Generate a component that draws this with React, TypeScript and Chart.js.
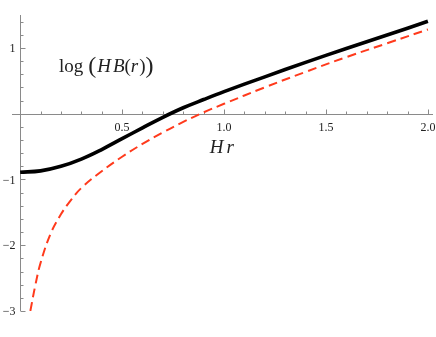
import React, { useEffect, useRef } from 'react';
import { Chart, registerables } from 'chart.js';

Chart.register(...registerables);

// Solid black curve: log(H B(r)) vs H r
const blackX = [0, 0.1, 0.2, 0.3, 0.4, 0.5, 0.6, 0.7, 0.8, 0.9, 1.0, 1.2, 1.4, 1.6, 1.8, 2.0];
const blackY = [-0.89, -0.87, -0.80, -0.69, -0.545, -0.38, -0.215, -0.055, 0.09, 0.215, 0.335, 0.56, 0.78, 0.99, 1.195, 1.405];

// Dashed red curve
const redX = [0.05, 0.075, 0.1, 0.15, 0.2, 0.25, 0.3, 0.4, 0.5, 0.6, 0.7, 0.8, 0.9, 1.0, 1.2, 1.4, 1.6, 1.8, 2.0];
const redY = [-3.0, -2.6, -2.27, -1.82, -1.53, -1.31, -1.13, -0.875, -0.655, -0.46, -0.285, -0.125, 0.02, 0.15, 0.4, 0.635, 0.86, 1.07, 1.28];

// Axes
const xRange = [-0.04, 2.025];
const yRange = [-3.0, 1.5];
const xMajorTicks = [0.5, 1.0, 1.5, 2.0];
const xTickLabels = ['0.5', '1.0', '1.5', '2.0'];
const yMajorTicks = [-3, -2, -1, 1];
const yTickLabels = ['\u22123', '\u22122', '\u22121', '1'];
const xMinorStep = 0.1;
const yMinorStep = 0.2;

const axisTitle = 'Hr';

const axisColor = '#8a8a8a';
const labelColor = '#222222';
const serif = '"Liberation Serif", "DejaVu Serif", serif';

const axesPlugin = {
  id: 'mathAxes',
  beforeDatasetsDraw(chart: any) {
    const { ctx, chartArea, scales } = chart;
    const xs = scales.x;
    const ys = scales.y;
    const x0 = Math.round(xs.getPixelForValue(0)) + 0.5;
    const y0 = Math.round(ys.getPixelForValue(0)) + 0.5;
    ctx.save();
    ctx.strokeStyle = axisColor;
    ctx.lineWidth = 1;
    ctx.beginPath();
    ctx.moveTo(chartArea.left, y0);
    ctx.lineTo(chartArea.right, y0);
    ctx.moveTo(x0, chartArea.top);
    ctx.lineTo(x0, chartArea.bottom);
    ctx.stroke();

    // x ticks (pointing up)
    ctx.beginPath();
    for (let k = 1; k * xMinorStep <= xRange[1] + 1e-9; k++) {
      const v = k * xMinorStep;
      const isMajor = xMajorTicks.some((m) => Math.abs(m - v) < 1e-6);
      const px = Math.round(xs.getPixelForValue(v)) + 0.5;
      ctx.moveTo(px, y0);
      ctx.lineTo(px, y0 - (isMajor ? 5 : 3));
    }
    // y ticks (pointing right)
    for (let k = Math.ceil(yRange[0] / yMinorStep - 1e-9); k * yMinorStep <= yRange[1] + 1e-9; k++) {
      const v = k * yMinorStep;
      if (Math.abs(v) < 1e-6) continue;
      const isMajor = yMajorTicks.some((m) => Math.abs(m - v) < 1e-6);
      const py = Math.round(ys.getPixelForValue(v)) + 0.5;
      ctx.moveTo(x0, py);
      ctx.lineTo(x0 + (isMajor ? 5 : 3), py);
    }
    ctx.stroke();

    ctx.fillStyle = labelColor;
    ctx.font = '12px ' + serif;
    ctx.textAlign = 'center';
    ctx.textBaseline = 'middle';
    xMajorTicks.forEach((v, i) => {
      ctx.fillText(xTickLabels[i], xs.getPixelForValue(v), y0 + 13);
    });
    ctx.textAlign = 'right';
    yMajorTicks.forEach((v, i) => {
      ctx.fillText(yTickLabels[i], x0 - 5, ys.getPixelForValue(v) + 1);
    });

    // axis title "H r"
    ctx.font = 'italic 19px ' + serif;
    ctx.textAlign = 'left';
    ctx.textBaseline = 'alphabetic';
    const hx = xs.getPixelForValue(0.93);
    const hy = ys.getPixelForValue(-0.6);
    ctx.fillText(axisTitle[0], hx, hy);
    const hw = ctx.measureText(axisTitle[0]).width;
    ctx.fillText(axisTitle[1], hx + hw + 3, hy);

    // curve label log(HB(r))
    let cx = xs.getPixelForValue(0.19);
    const cy = ys.getPixelForValue(0.63);
    const parts: [string, string, number, number][] = [
      ['log', 'normal 19px ', 0, 5],
      ['(', 'normal 24px ', 1, 1],
      ['H', 'italic 19px ', 0, 2],
      ['B', 'italic 19px ', 0, 0],
      ['(', 'normal 19px ', 0, 0],
      ['r', 'italic 19px ', 0, 1],
      [')', 'normal 19px ', 0, 0],
      [')', 'normal 24px ', 1, 0],
    ];
    parts.forEach(([t, f, dy, gap]) => {
      ctx.font = f + serif;
      ctx.fillText(t, cx, cy + dy);
      cx += ctx.measureText(t).width + gap;
    });
    ctx.restore();
  },
};

export default function App() {
  const ref = useRef<HTMLCanvasElement | null>(null);
  useEffect(() => {
    document.body.style.margin = '0';
    const canvas = ref.current;
    if (!canvas) return;
    const chart = new Chart(canvas, {
      type: 'scatter',
      data: {
        datasets: [
          {
            label: 'log(HB(r))',
            data: blackX.map((x, i) => ({ x, y: blackY[i] })),
            showLine: true,
            borderColor: '#000000',
            backgroundColor: '#000000',
            borderWidth: 3.6,
            pointRadius: 0,
            tension: 0.4,
            fill: false,
          },
          {
            label: 'asymptote',
            data: redX.map((x, i) => ({ x, y: redY[i] })),
            showLine: true,
            borderColor: '#ff3a1c',
            backgroundColor: '#ff3a1c',
            borderWidth: 2,
            borderDash: [9, 5],
            pointRadius: 0,
            tension: 0.4,
            fill: false,
          },
        ],
      },
      options: {
        animation: false,
        responsive: true,
        maintainAspectRatio: false,
        layout: { padding: { left: 12, right: 3, top: 15, bottom: 26 } },
        plugins: { legend: { display: false }, tooltip: { enabled: false } },
        scales: {
          x: { type: 'linear', min: xRange[0], max: xRange[1], display: false },
          y: { type: 'linear', min: yRange[0], max: yRange[1], display: false },
        },
      },
      plugins: [axesPlugin],
    } as any);
    return () => chart.destroy();
  }, []);
  return (
    <div style={{ width: 436, height: 337, position: 'relative' }}>
      <canvas ref={ref} />
    </div>
  );
}
